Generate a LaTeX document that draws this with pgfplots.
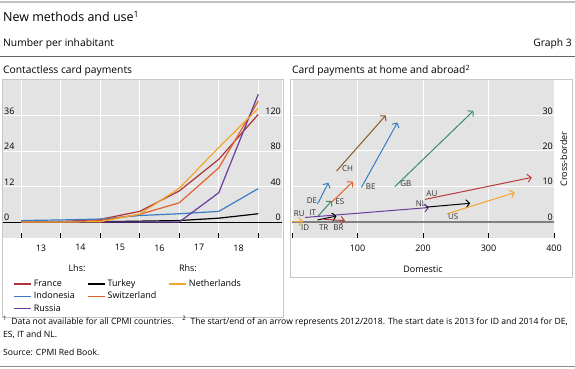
\documentclass[border=0pt]{standalone}
\usepackage{pgfplots}
\pgfplotsset{compat=1.18}
\usepackage{fontspec}
\setmainfont{Open Sans}
\usetikzlibrary{arrows.meta}
\definecolor{cfr}{HTML}{AD3338}
\definecolor{cid}{HTML}{3A7CC4}
\definecolor{cru}{HTML}{6A3C9C}
\definecolor{csw}{HTML}{E2622A}
\definecolor{cnl}{HTML}{F2A52C}
\definecolor{cch}{HTML}{8B5A2B}
\definecolor{cgr}{HTML}{3B8A70}
\definecolor{car}{HTML}{B83A3A}
\definecolor{bg}{HTML}{E3E3E3}
\tikzset{
  arr/.style={line width=1pt, -{Straight Barb[length=3.5pt,width=8pt]}},
  lab/.style={text=black!80, font=\fontsize{8}{9}\selectfont, inner sep=1pt},
}
\pgfplotsset{
  common/.style={
    scale only axis,
    anchor=north west,
    axis line style={draw=none},
    tick label style={font=\fontsize{9}{10}\selectfont},
    xticklabel style={yshift=-3pt},
    /pgf/number format/assume math mode=true,
    tick align=inside,
    major tick length=5pt,
  },
}
\begin{document}
\begin{tikzpicture}
\useasboundingbox (0pt,0pt) rectangle (575pt,-369pt);
\fill[black!25] (0pt,-1pt) rectangle (575pt,-3pt);
\node[anchor=base west, inner sep=0, font=\fontsize{12.5}{14}\selectfont] at (3pt,-21.5pt) {New methods and use\textsuperscript{1}};
\node[anchor=base west, inner sep=0, font=\fontsize{10.3}{12}\selectfont] at (3pt,-47pt) {Number per inhabitant};
\node[anchor=base east, inner sep=0, font=\fontsize{10.3}{12}\selectfont] at (572pt,-47pt) {Graph 3};
\draw[black!60, line width=0.7pt] (0pt,-56pt) -- (575pt,-56pt);
\node[anchor=base west, inner sep=0, font=\fontsize{10.3}{12}\selectfont] at (3pt,-74pt) {Contactless card payments};
\node[anchor=base west, inner sep=0, font=\fontsize{10.3}{12}\selectfont] at (292pt,-74pt) {Card payments at home and abroad\textsuperscript{2}};
\draw[black!22, line width=0.6pt] (2.5pt,-79.5pt) rectangle (283pt,-317pt);
\draw[black!22, line width=0.6pt] (290pt,-79.5pt) rectangle (572.5pt,-277pt);
\node[font=\fontsize{9}{10}\selectfont] at (77pt,-268pt) {Lhs:};
\node[font=\fontsize{9}{10}\selectfont] at (188pt,-268pt) {Rhs:};

% ---------- left panel, lhs ----------
\begin{axis}[common,
  at={(3pt,-80pt)}, width=279pt, height=158pt,
  xmin=-0.46, xmax=6.6, ymin=-5.4, ymax=48,
  axis background/.style={fill=bg},
  xtick={0,1,2,3,4,5,6}, xticklabels={,,,,,,},
  extra x ticks={0.5,1.5,2.5,3.5,4.5,5.5},
  extra x tick labels={13,14,15,16,17,18},
  extra x tick style={major tick length=0pt, grid=none},
  xtick pos=bottom, ytick pos=left,
  xtick style={black, line width=0.6pt},
  ytick={0,12,24,36}, ytick style={draw=none},
  yticklabel style={anchor=south west, inner sep=1pt},
  grid=major, major grid style={white, line width=0.9pt},
  extra y ticks={0}, extra y tick labels={},
  extra y tick style={grid=major, major grid style={black, line width=0.8pt}},
  legend columns=3,
  legend cell align=left,
  legend image post style={line width=1.6pt},
  legend style={at={(0.025,-0.238)}, anchor=north west, draw=none, fill=none,
    font=\fontsize{9}{10}\selectfont, row sep=0pt,
    /tikz/every even column/.append style={column sep=10pt}},
]
\addplot[cfr, line width=1.2pt] coordinates {(0,0.1) (1,0.1) (2,0.9) (3,3.6) (4,10.5) (5,21.2) (6,36.4)};
\addlegendentry{France}
\addplot[black, line width=1.2pt] coordinates {(0,0.05) (1,0.05) (2,0.1) (3,0.3) (4,0.5) (5,1.3) (6,2.8)};
\addlegendentry{Turkey}
\addlegendimage{cnl, line width=1.2pt}
\addlegendentry{Netherlands}
\addplot[cid, line width=1.2pt] coordinates {(0,0.5) (1,0.7) (2,1.0) (3,2.2) (4,2.8) (5,3.6) (6,11.3)};
\addlegendentry{Indonesia}
\addplot[csw, line width=1.2pt] coordinates {(0,0) (1,0) (2,0.5) (3,2.6) (4,6.5) (5,18.3) (6,40.9)};
\addlegendentry{Switzerland}
\addlegendimage{empty legend}
\addlegendentry{}
\addplot[cru, line width=1.2pt] coordinates {(0,0) (1,0) (2,0) (3,0) (4,0) (5,9.9) (6,43.2)};
\addlegendentry{Russia}
\end{axis}

% ---------- left panel, rhs ----------
\begin{axis}[common,
  at={(3pt,-80pt)}, width=279pt, height=158pt,
  xmin=-0.46, xmax=6.6, ymin=-18, ymax=160,
  axis x line=none, axis y line*=right,
  ytick={0,40,80,120}, ytick style={draw=none},
  yticklabel style={anchor=south east, inner sep=1pt},
]
\addplot[cnl, line width=1.2pt] coordinates {(0,0) (1,0) (2,0.3) (3,9) (4,38) (5,84) (6,128)};
\end{axis}

% ---------- right panel ----------
\begin{axis}[common,
  at={(292pt,-80pt)}, width=262pt, height=158pt,
  xmin=0, xmax=400, ymin=-4.6, ymax=40,
  axis background/.style={fill=bg},
  xtick={0,100,200,300,400}, xticklabels={,100,200,300,400},
  xtick pos=bottom, ytick pos=right,
  xtick style={black, line width=0.6pt},
  ytick={0,10,20,30}, ytick style={draw=none},
  yticklabel style={anchor=south east, inner sep=1pt},
  grid=major, major grid style={white, line width=0.9pt},
  extra y ticks={0}, extra y tick labels={},
  extra y tick style={grid=major, major grid style={black!50, line width=1.6pt}},
  xlabel={Domestic},
  xlabel style={at={(rel axis cs:0.5,0)}, anchor=north, yshift=-24pt, font=\fontsize{9}{10}\selectfont},
  ylabel={Cross-border},
  ylabel style={at={(rel axis cs:1,0.5)}, anchor=north, rotate=0, inner sep=6pt, font=\fontsize{9}{10}\selectfont},
]
\addplot[cch, arr] coordinates {(68,14.3) (143,30)} node[pos=0, anchor=west, lab, xshift=4pt, yshift=2pt] {CH};
\addplot[cid, arr] coordinates {(106,9.7) (161,28)} node[pos=0, anchor=west, lab, xshift=3pt, yshift=1pt] {BE};
\addplot[cgr, arr] coordinates {(157,9.9) (277,31.3)} node[pos=0, anchor=west, lab, xshift=4pt, yshift=3pt] {GB};
\addplot[cid, arr] coordinates {(39,5) (55.5,11)} node[pos=0, anchor=south east, lab, xshift=1pt, yshift=-1pt] {DE};
\addplot[csw, arr] coordinates {(61,5.6) (93,11.3)} node[pos=0, anchor=west, lab, xshift=2pt, yshift=0pt] {ES};
\addplot[cgr, arr] coordinates {(39,1.4) (60.5,5.9)} node[pos=0, anchor=south east, lab, xshift=0pt, yshift=0pt] {IT};
\addplot[cru, arr] coordinates {(20,1.2) (209,4.0)} node[pos=0, anchor=south east, lab, xshift=1pt, yshift=-1pt] {RU};
\addplot[black, arr] coordinates {(204,4.1) (272,5.2)} node[pos=0, anchor=south east, lab, xshift=2pt, yshift=-1pt] {NL};
\addplot[car, arr] coordinates {(203,6.3) (366,12.5)} node[pos=0, anchor=south west, lab, yshift=1pt] {AU};
\addplot[cnl, arr] coordinates {(236,2.2) (340,8.2)} node[pos=0, anchor=north west, lab, yshift=2pt] {US};
\addplot[cnl, arr] coordinates {(1,0) (17,0.1)} node[pos=0, anchor=north west, lab, xshift=7pt, yshift=-2pt] {ID};
\addplot[black, arr] coordinates {(39,0.5) (68,1.6)} node[pos=0, anchor=north west, lab, yshift=-3pt] {TR};
\addplot[car, arr] coordinates {(48,0.7) (81,0.3)} node[pos=1, anchor=north east, lab, yshift=-3pt] {BR};
\end{axis}

% ---------- footnotes ----------
\node[anchor=base west, inner sep=0, font=\fontsize{8.6}{10}\selectfont] at (3pt,-324pt) {\textsuperscript{1}\enspace Data not available for all CPMI countries.\quad\textsuperscript{2}\enspace The start/end of an arrow represents 2012/2018. The start date is 2013 for ID and 2014 for DE,};
\node[anchor=base west, inner sep=0, font=\fontsize{8.6}{10}\selectfont] at (3pt,-337pt) {ES, IT and NL.};
\node[anchor=base west, inner sep=0, font=\fontsize{8.6}{10}\selectfont] at (3pt,-355.5pt) {Source: CPMI Red Book.};
\fill[black!45] (0pt,-365.5pt) rectangle (575pt,-367pt);
\end{tikzpicture}
\end{document}
